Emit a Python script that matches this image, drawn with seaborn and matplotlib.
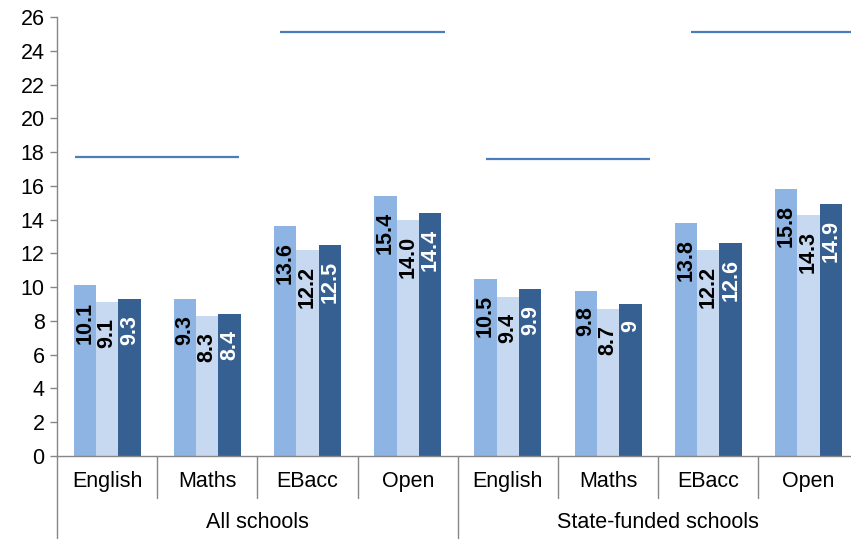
import numpy as np
import pandas as pd
import matplotlib
matplotlib.use('Agg')
from matplotlib import pyplot as plt
import seaborn as sns

# data
subjects = ['English', 'Maths', 'EBacc', 'Open']
school_groups = ['All schools', 'State-funded schools']
series_names = ['Series 1', 'Series 2', 'Series 3']
series_1 = [10.1, 9.3, 13.6, 15.4, 10.5, 9.8, 13.8, 15.8]
series_2 = [9.1, 8.3, 12.2, 14.0, 9.4, 8.7, 12.2, 14.3]
series_3 = [9.3, 8.4, 12.5, 14.4, 9.9, 9.0, 12.6, 14.9]
labels_1 = ['10.1', '9.3', '13.6', '15.4', '10.5', '9.8', '13.8', '15.8']
labels_2 = ['9.1', '8.3', '12.2', '14.0', '9.4', '8.7', '12.2', '14.3']
labels_3 = ['9.3', '8.4', '12.5', '14.4', '9.9', '9', '12.6', '14.9']
target_lines = [17.7, 25.1, 17.6, 25.1]

colors = ['#8EB4E3', '#C6D9F1', '#366092']
label_colors = ['black', 'black', 'white']
line_color = '#4A7EBB'
gray = '#868686'

cats = [g + '|' + s for g in school_groups for s in subjects]
rows = []
for name, vals in zip(series_names, [series_1, series_2, series_3]):
    for c, v in zip(cats, vals):
        rows.append({'cat': c, 'series': name, 'value': v})
df = pd.DataFrame(rows)

sns.set_style('white')
plt.rcParams['font.family'] = ['Liberation Sans', 'DejaVu Sans']

fig = plt.figure(figsize=(8.51, 5.49), dpi=100)
ax = fig.add_axes([57 / 851, 93 / 549, 801.6 / 851, 439 / 549])

sns.barplot(data=df, x='cat', y='value', hue='series', order=cats,
            hue_order=series_names, palette=colors, width=0.67,
            saturation=1, legend=False, errorbar=None, linewidth=0, ax=ax)

# value labels, rotated, just below the top of each bar
for cont, labs, lc in zip(ax.containers, [labels_1, labels_2, labels_3], label_colors):
    for bar, lab in zip(cont, labs):
        x = bar.get_x() + bar.get_width() / 2
        ax.annotate(lab, (x, bar.get_height()), xytext=(0, -11.5),
                    textcoords='offset points', rotation=90, ha='center',
                    va='top', fontsize=15.5, fontweight='bold', color=lc)

# horizontal lines spanning pairs of subjects
for k, val in enumerate(target_lines):
    x0 = 2.05 * k - 0.32
    ax.hlines(val, x0, x0 + 1.64, color=line_color, lw=1.6)

ax.set_xlim(-0.5, 7.5)
ax.set_ylim(0, 26)
ax.set_yticks(range(0, 27, 2))
ax.set_xticks(range(8))
ax.set_xticklabels(subjects * 2)
ax.set_xlabel('')
ax.set_ylabel('')
ax.tick_params(axis='x', length=0, pad=11, labelsize=15.5, labelcolor='black')
ax.tick_params(axis='y', left=True, length=5, width=1, color=gray,
               labelsize=15.5, pad=4, labelcolor='black')

sns.despine(ax=ax)
for s in ['left', 'bottom']:
    ax.spines[s].set_color(gray)
    ax.spines[s].set_linewidth(1)

# category separators below the axis
tr = ax.get_xaxis_transform()
for i in range(9):
    depth = 82 / 439 if i % 4 == 0 else 42 / 439
    ax.plot([i - 0.5, i - 0.5], [0, -depth], transform=tr, color=gray,
            lw=1, clip_on=False)

for j, g in enumerate(school_groups):
    ax.text(4 * j + 1.5, -67 / 439, g, transform=tr, ha='center',
            va='center', fontsize=15.5, color='black')

fig.savefig('out.png', dpi=100)
